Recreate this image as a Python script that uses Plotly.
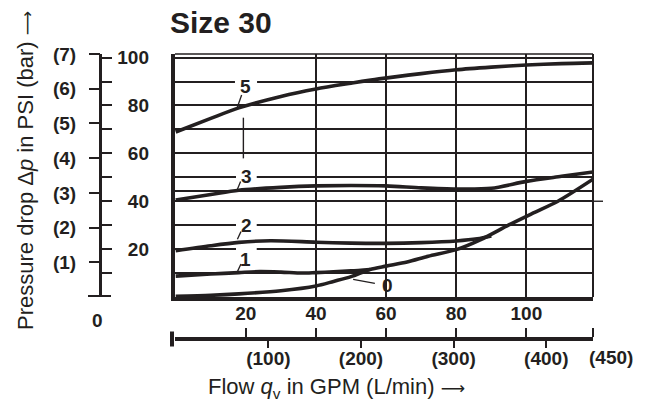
import plotly.graph_objects as go

# ---------------- data ----------------
flow_c5 = [0, 10, 18, 30, 40, 50, 58, 70, 80, 90, 100, 110, 119]
dp_c5 = [68.9, 74.6, 79.0, 83.8, 86.9, 89.3, 91.1, 93.3, 94.9, 96.0, 96.9, 97.5, 97.8]

flow_c3 = [0, 10, 18, 30, 40, 50, 60, 70, 80, 90, 100, 110, 119]
dp_c3 = [40.5, 42.8, 44.6, 45.8, 46.4, 46.6, 46.4, 45.6, 45.1, 45.4, 48.3, 50.4, 52.2]

flow_c2 = [0, 10, 18, 27, 40, 50, 60, 70, 80, 86, 90]
dp_c2 = [19.3, 21.4, 22.8, 23.5, 22.9, 22.5, 22.4, 22.7, 23.4, 24.3, 25.5]

flow_c1 = [0, 10, 18, 24, 30, 36, 40, 45, 50, 55.4]
dp_c1 = [8.7, 9.6, 10.2, 10.6, 10.4, 10.0, 10.2, 10.5, 10.9, 11.5]

flow_c0 = [0, 10, 18, 30, 40, 45, 50, 55.4, 60, 66, 72, 80, 87, 95, 102, 109, 119]
dp_c0 = [0.3, 0.7, 1.3, 2.6, 4.6, 6.5, 8.5, 11.5, 12.9, 14.6, 17.0, 19.8, 24.0, 30.1, 35.1, 40.0, 49.2]

curve_names = ["5", "3", "2", "1", "0"]

gpm_grid = [40, 60, 80, 100]
psi_grid = [10, 20, 30, 40, 44.3, 50, 60, 70, 80, 90, 100]
psi_ticks = [10, 20, 30, 40, 50, 60, 70, 80, 90, 100]
psi_labels = [20, 40, 60, 80, 100]
bar_ticks = [1, 2, 3, 4, 5, 6, 7]
bar_labels = ["(1)", "(2)", "(3)", "(4)", "(5)", "(6)", "(7)"]
gpm_ticks = [20, 40, 60, 80, 100]
gpm_labels = ["20", "40", "60", "80", "100"]
lpm_ticks = [100, 200, 300, 400]
lpm_labels = ["(100)", "(200)", "(300)", "(400)"]
lpm_max = 450
LPM_PER_GPM = 3.785
PSI_PER_BAR = 14.5

# ---------------- geometry ----------------
W, H = 645, 404
OFF = 8                      # page body margin of the browser
ML, MR, MT, MB = 40, 52, 46, 62
PW, PH = W - ML - MR, H - MT - MB


def px(xp):                  # reference-picture x pixel -> paper fraction
    return (xp - OFF - ML) / PW


def py(yp):                  # reference-picture y pixel -> paper fraction
    return (H - MB - (yp - OFF)) / PH


INK = "#231f20"
FONT = "Liberation Sans, Arial, sans-serif"
xr = [-0.2, 119.0]
yr = [0, 101.5]
xdom = [px(175), px(593)]
ydom = [py(297), py(54)]

bold = dict(family=FONT, size=19, color=INK, weight="bold")
ARROW = '<span style="font-family:DejaVu Sans;font-size:17px">⟶</span>'

fig = go.Figure()
for fl, dp in [(flow_c5, dp_c5), (flow_c3, dp_c3), (flow_c2, dp_c2),
               (flow_c1, dp_c1), (flow_c0, dp_c0)]:
    fig.add_trace(go.Scatter(x=fl, y=dp, mode="lines",
                             line=dict(color=INK, width=3.6, shape="spline", smoothing=0.8),
                             showlegend=False, hoverinfo="skip"))

for xa, ya in [("x2", "y"), ("x3", "y"), ("x", "y2"), ("x", "y3"), ("x", "y4")]:
    fig.add_trace(go.Scatter(x=[None], y=[None], xaxis=xa, yaxis=ya,
                             showlegend=False, hoverinfo="skip"))

common = dict(zeroline=False, fixedrange=True)

fig.update_layout(
    width=W, height=H,
    margin=dict(l=ML, r=MR, t=MT, b=MB),
    plot_bgcolor="white", paper_bgcolor="white",
    font=dict(family=FONT, color=INK),
    xaxis=dict(domain=xdom, range=xr, tickvals=gpm_grid, showticklabels=False,
               ticks="", showgrid=True, gridcolor=INK, gridwidth=1.6,
               showline=True, linecolor=INK, linewidth=4, **common),
    yaxis=dict(domain=ydom, range=yr, tickvals=psi_grid, showticklabels=False,
               ticks="", showgrid=True, gridcolor=INK, gridwidth=1.6,
               showline=True, linecolor=INK, linewidth=4, **common),
    xaxis2=dict(overlaying="x", anchor="free", position=py(339), side="top",
                domain=xdom, range=xr,
                tickvals=gpm_ticks + [lpm_max / LPM_PER_GPM], ticktext=gpm_labels + [""],
                ticks="outside", ticklen=9, tickwidth=2, tickcolor=INK,
                showline=True, linecolor=INK, linewidth=4, showgrid=False,
                tickfont=bold, **common),
    xaxis3=dict(overlaying="x", anchor="free", position=py(339), side="bottom",
                domain=xdom, range=[v * LPM_PER_GPM for v in xr],
                tickvals=lpm_ticks, ticktext=lpm_labels,
                ticks="outside", ticklen=8, tickwidth=2, tickcolor=INK,
                ticklabelstandoff=-6,
                showline=False, showgrid=False, tickfont=bold, **common),
    yaxis2=dict(overlaying="y", anchor="free", position=px(100), side="right",
                domain=ydom, range=yr, tickvals=psi_ticks, showticklabels=False,
                ticks="outside", ticklen=10, tickwidth=2, tickcolor=INK,
                showline=True, linecolor=INK, linewidth=3, showgrid=False, **common),
    yaxis3=dict(overlaying="y", anchor="free", position=px(100), side="left",
                domain=ydom, range=[v / PSI_PER_BAR for v in yr],
                tickvals=bar_ticks, ticktext=bar_labels,
                ticks="outside", ticklen=11, tickwidth=2, tickcolor=INK,
                ticklabelstandoff=9,
                showline=False, showgrid=False, tickfont=bold, **common),
    yaxis4=dict(overlaying="y", anchor="free", position=px(149), side="left",
                domain=ydom, range=yr, tickvals=psi_labels,
                ticks="", showline=False, showgrid=False, tickfont=bold, **common),
)

shapes = []
# plot frame: top and right thin borders
shapes.append(dict(type="line", xref="x domain", yref="y domain", x0=0, x1=1, y0=1, y1=1,
                   line=dict(color=INK, width=1.6)))
shapes.append(dict(type="line", xref="x domain", yref="y domain", x0=1, x1=1, y0=0, y1=1,
                   line=dict(color=INK, width=2)))
# white gaps in grid lines behind curve labels
for (xa, xb, yg) in [(16.9, 23.2, 90), (17.2, 23.1, 50), (17.2, 23.1, 30), (17.2, 23.1, 20)]:
    shapes.append(dict(type="rect", layer="between", xref="x", yref="y",
                       x0=xa, x1=xb, y0=yg - 1.4, y1=yg + 1.4,
                       fillcolor="white", line=dict(width=0)))
# leader lines
for (x0, y0, x1, y1) in [(17.4, 78.5, 18.8, 84.4), (17.6, 45.0, 18.5, 48.2),
                         (17.6, 24.1, 18.6, 27.3), (17.6, 10.6, 18.6, 13.8),
                         (50.6, 7.4, 56.8, 5.7)]:
    shapes.append(dict(type="line", xref="x", yref="y", x0=x0, y0=y0, x1=x1, y1=y1,
                       line=dict(color=INK, width=1.3)))
# short vertical stroke under label 5
shapes.append(dict(type="line", xref="x", yref="y", x0=19.3, x1=19.3, y0=57.9, y1=74.9,
                   line=dict(color=INK, width=1.4)))
# 40 PSI grid line running past the frame
shapes.append(dict(type="line", xref="paper", yref="y", x0=px(593), x1=px(603), y0=40, y1=40,
                   line=dict(color=INK, width=1.4)))
# end cap of flow axis
shapes.append(dict(type="line", xref="paper", yref="paper", x0=px(172), x1=px(172),
                   y0=py(346.5), y1=py(331.5), line=dict(color=INK, width=4)))
# foot of pressure axis
shapes.append(dict(type="line", xref="paper", yref="y", x0=px(88), x1=px(111), y0=0, y1=0,
                   line=dict(color=INK, width=4)))
fig.update_layout(shapes=shapes)

ann = []
for name, (ax_, ay_) in zip(curve_names, [(20.0, 87.8), (20.2, 50.5), (20.2, 29.7),
                                          (20.0, 15.7), (60.3, 4.6)]):
    ann.append(dict(text=name, x=ax_, y=ay_, xref="x", yref="y", showarrow=False,
                    font=bold, xanchor="center", yanchor="middle"))
ann.append(dict(text="Size 30", x=px(168), y=py(22.5), xref="paper", yref="paper",
                xanchor="left", yanchor="middle", showarrow=False,
                font=dict(family=FONT, size=30, color=INK, weight="bold")))
ann.append(dict(text="Pressure drop Δ<i>p</i> in PSI (bar) " + ARROW, x=px(25), y=py(171),
                xref="paper", yref="paper", textangle=-90, showarrow=False,
                xanchor="center", yanchor="middle",
                font=dict(family=FONT, size=22, color=INK)))
ann.append(dict(text="Flow <i>q</i><sub>v</sub> in GPM (L/min) " + ARROW, x=px(336), y=py(388),
                xref="paper", yref="paper", showarrow=False,
                xanchor="center", yanchor="middle",
                font=dict(family=FONT, size=22, color=INK)))
ann.append(dict(text="0", x=px(97), y=py(320), xref="paper", yref="paper", showarrow=False,
                xanchor="center", yanchor="middle", font=bold))
ann.append(dict(text="(%d)" % lpm_max, x=px(610.5), y=py(357), xref="paper", yref="paper",
                showarrow=False, xanchor="center", yanchor="middle", font=bold))
fig.update_layout(annotations=ann)

fig.write_html("out.html")
